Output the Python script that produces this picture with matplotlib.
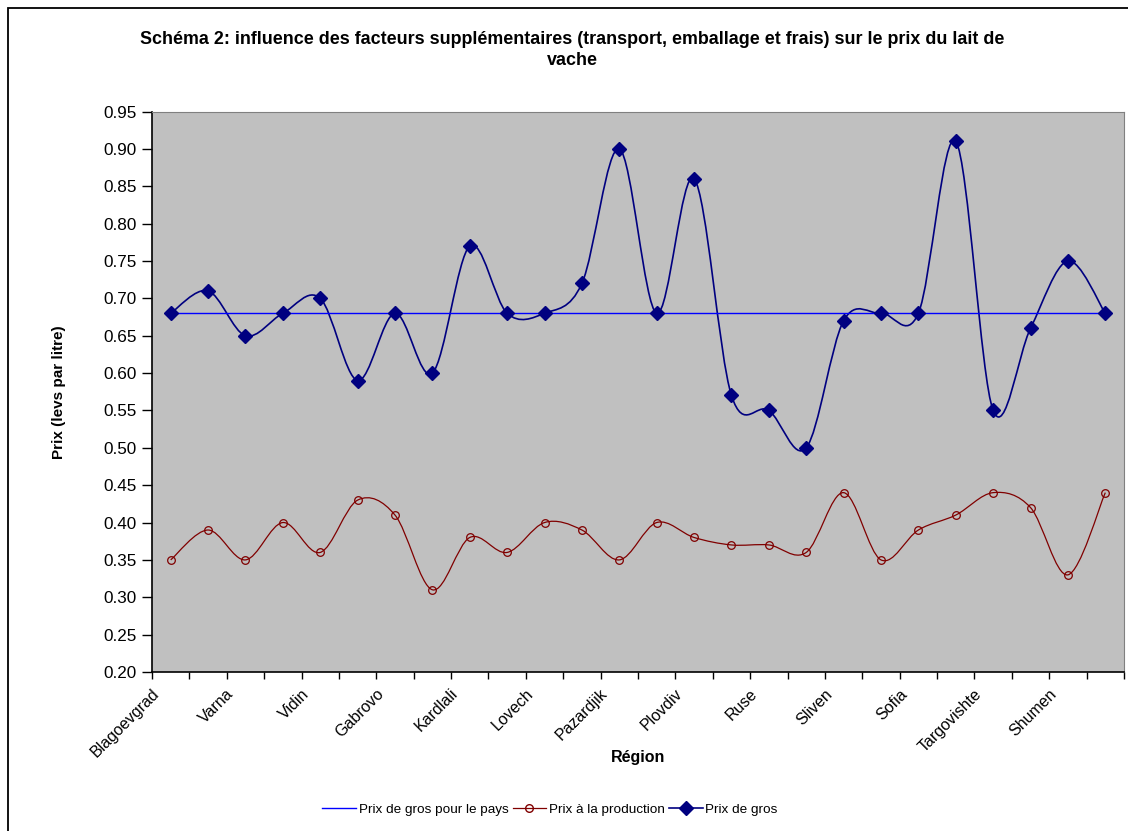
import numpy as np
import matplotlib
matplotlib.use('Agg')
from matplotlib import pyplot as plt
from matplotlib.path import Path
from matplotlib.patches import PathPatch, Rectangle
from matplotlib.lines import Line2D
from matplotlib.transforms import ScaledTranslation

plt.rcParams['font.family'] = ['Liberation Sans', 'DejaVu Sans']

# region labels (Excel shows every other category)
regions = ['Blagoevgrad', 'Varna', 'Vidin', 'Gabrovo', 'Kardlali', 'Lovech', 'Pazardjik',
           'Plovdiv', 'Ruse', 'Sliven', 'Sofia', 'Targovishte', 'Shumen']
n_cat = 26

# prices, levs per litre
national = [0.68, 0.68, 0.68, 0.68, 0.68, 0.68, 0.68, 0.68, 0.68, 0.68, 0.68, 0.68, 0.68,
            0.68, 0.68, 0.68, 0.68, 0.68, 0.68, 0.68, 0.68, 0.68, 0.68, 0.68, 0.68, 0.68]
production = [0.35, 0.39, 0.35, 0.40, 0.36, 0.43, 0.41, 0.31, 0.38, 0.36, 0.40, 0.39, 0.35,
              0.40, 0.38, 0.37, 0.37, 0.36, 0.44, 0.35, 0.39, 0.41, 0.44, 0.42, 0.33, 0.44]
wholesale = [0.68, 0.71, 0.65, 0.68, 0.70, 0.59, 0.68, 0.60, 0.77, 0.68, 0.68, 0.72, 0.90,
             0.68, 0.86, 0.57, 0.55, 0.50, 0.67, 0.68, 0.68, 0.91, 0.55, 0.66, 0.75, 0.68]


def smooth_path(x, y):
    # excel-like smoothed line: cubic bezier, control points from neighbours / 6
    x = np.asarray(x, float); y = np.asarray(y, float)
    n = len(x)
    verts = [(x[0], y[0])]
    codes = [Path.MOVETO]
    for i in range(n - 1):
        i0 = max(i - 1, 0); i3 = min(i + 2, n - 1)
        c1 = (x[i] + (x[i + 1] - x[i0]) / 6, y[i] + (y[i + 1] - y[i0]) / 6)
        c2 = (x[i + 1] - (x[i3] - x[i]) / 6, y[i + 1] - (y[i3] - y[i]) / 6)
        verts += [c1, c2, (x[i + 1], y[i + 1])]
        codes += [Path.CURVE4] * 3
    return Path(verts, codes)


fig = plt.figure(figsize=(11.28, 8.31), dpi=100)
ax = fig.add_axes([152/1128, 1 - 672/831, (1124-152)/1128, (672-111.5)/831])
ax.set_facecolor('#C0C0C0')

xs = np.arange(n_cat)
navy = '#000080'
darkred = '#800000'

ax.plot(xs, national, color='#0000FF', lw=1.0)

ax.add_patch(PathPatch(smooth_path(xs, production), fc='none', ec=darkred, lw=0.9))
ax.plot(xs, production, ls='None', marker='o', ms=5.5, mfc='none', mec=darkred, mew=0.9)

ax.add_patch(PathPatch(smooth_path(xs, wholesale), fc='none', ec=navy, lw=1.2))
ax.plot(xs, wholesale, ls='None', marker='D', ms=7.5, mfc=navy, mec=navy)

ax.set_xlim(-0.5, n_cat - 0.5)
ax.set_ylim(0.2, 0.95)
ax.set_yticks(np.arange(0.20, 0.951, 0.05))
ax.set_yticklabels(['{:.2f}'.format(v) for v in np.arange(0.20, 0.951, 0.05)], fontsize=12.3)
ax.tick_params(axis='y', direction='out', length=7, width=1, pad=4)

# category boundaries as ticks, names at every other category
ax.set_xticks(np.arange(-0.5, n_cat, 1.0))
ax.set_xticklabels([])
ax.tick_params(axis='x', which='major', direction='out', length=5, width=1)
ax.set_xticks(np.arange(0, n_cat, 2), minor=True)
ax.set_xticklabels(regions, minor=True, rotation=45, ha='right', va='center',
                   rotation_mode='anchor', fontsize=11.5)
ax.tick_params(axis='x', which='minor', length=0, pad=14)
for lab in ax.get_xticklabels(minor=True):
    lab.set_transform(lab.get_transform() + ScaledTranslation(-10/72, 0, fig.dpi_scale_trans))

for side in ['top', 'right']:
    ax.spines[side].set_color('#808080')
for side in ['left', 'bottom']:
    ax.spines[side].set_color('black')
    ax.spines[side].set_linewidth(1.2)

ax.set_xlabel('Région', fontsize=11.5, fontweight='bold')
ax.xaxis.set_label_coords(0.5, -(750-672)/(672-111.5))
ax.set_ylabel('Prix (levs par litre)', fontsize=11, fontweight='bold')
ax.yaxis.set_label_coords(-(152-66)/972, 0.5)

fig.text(572/1128, 1 - 50/831,
         'Schéma 2: influence des facteurs supplémentaires (transport, emballage et frais) sur le prix du lait de\nvache',
         ha='center', va='center', fontsize=12.9, fontweight='bold', linespacing=1.25)

handles = [Line2D([], [], color='#0000FF', lw=1.0),
           Line2D([], [], color=darkred, lw=0.9, marker='o', ms=5.5, mfc='none', mec=darkred),
           Line2D([], [], color=navy, lw=1.2, marker='D', ms=7, mfc=navy, mec=navy)]
fig.legend(handles, ['Prix de gros pour le pays', 'Prix à la production', 'Prix de gros'],
           loc='center', bbox_to_anchor=(550/1128, 1 - 810/831), ncol=3, frameon=False,
           fontsize=9.7, handlelength=2.5, handletextpad=0.2, columnspacing=0.3)

fig.patches.append(Rectangle((8/1128, -0.05), 1.2, 0.05 + 1 - 8/831, transform=fig.transFigure,
                             fill=False, ec='black', lw=1.3))

plt.savefig('out.png', dpi=100)
